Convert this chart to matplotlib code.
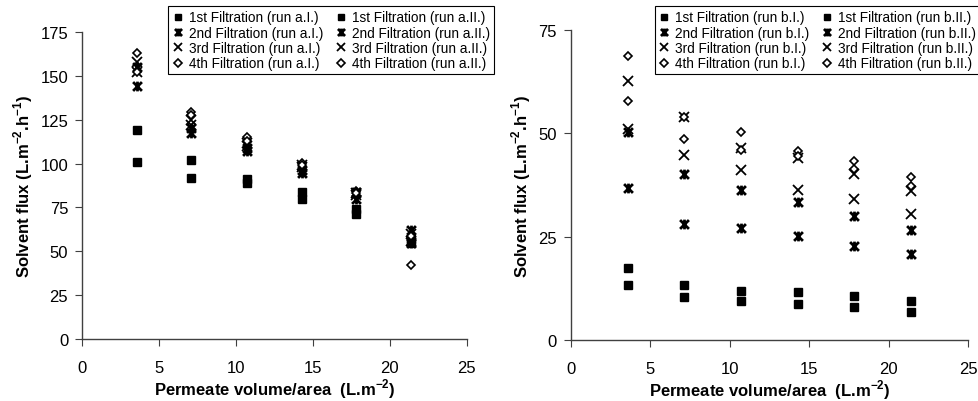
import matplotlib
matplotlib.use("Agg")
import matplotlib.pyplot as plt
from matplotlib.path import Path

plt.rcParams["font.family"] = ["Liberation Sans", "DejaVu Sans"]
plt.rcParams["mathtext.fontset"] = "custom"
plt.rcParams["mathtext.rm"] = "Liberation Sans"
plt.rcParams["mathtext.bf"] = "Liberation Sans:bold"

# Volume perméat / surface (L.m-2)
volume = [3.6, 7.1, 10.7, 14.3, 17.8, 21.4]

# Série a
a_1st_I = [119, 102, 91, 84, 74, 57]
a_2nd_I = [144, 117.5, 107, 94.4, 80, 55]
a_3rd_I = [152, 122, 109.8, 97.8, 82, 56]
a_4th_I = [163, 129.4, 115, 100.5, 84.5, 42.4]
a_1st_II = [101, 92, 89, 80, 71, 55]
a_2nd_II = [155, 120, 108.8, 96.3, 84, 62]
a_3rd_II = [158, 125, 111.7, 99, 83, 60]
a_4th_II = [152, 127.5, 113, 99, 83.5, 59]

# Série b
b_1st_I = [17.4, 13.4, 11.8, 11.6, 10.7, 9.4]
b_2nd_I = [50.2, 40.1, 36.2, 33.4, 29.9, 26.5]
b_3rd_I = [62.6, 54, 46.5, 43.9, 40.1, 36]
b_4th_I = [68.8, 54, 50.2, 45.6, 43.2, 39.5]
b_1st_II = [13.2, 10.3, 9.4, 8.7, 7.9, 6.7]
b_2nd_II = [36.8, 28, 27, 25.2, 22.8, 20.7]
b_3rd_II = [51, 44.8, 41, 36.2, 34, 30.5]
b_4th_II = [57.7, 48.6, 46, 44.5, 41.3, 37.2]

filtrations = ["1st", "2nd", "3rd", "4th"]

# marqueur "étoile" façon Excel : croix + trait vertical
star = Path(
    [(-1, -1), (1, 1), (-1, 1), (1, -1), (0, -1.1), (0, 1.1)],
    [Path.MOVETO, Path.LINETO, Path.MOVETO, Path.LINETO, Path.MOVETO, Path.LINETO],
)

styles = [
    dict(marker="s", ms=6, mfc="black", mec="black"),
    dict(marker=star, ms=7, mfc="none", mec="black", mew=2.0),
    dict(marker="x", ms=7, mfc="none", mec="black", mew=1.3),
    dict(marker="D", ms=4.5, mfc="white", mec="black", mew=1.2),
]

fig = plt.figure(figsize=(9.79, 4.02), dpi=100)
ax1 = fig.add_axes([0.0838, 0.154, 0.393, 0.764])
ax2 = fig.add_axes([0.583, 0.152, 0.406, 0.771])


def draw(ax, series_I, series_II, run, ymax, legend_x):
    for vals, st, f in zip(series_I, styles, filtrations):
        ax.plot(volume, vals, ls="none", label=f"{f} Filtration (run {run}.I.)", **st)
    for vals, st, f in zip(series_II, styles, filtrations):
        ax.plot(volume, vals, ls="none", label=f"{f} Filtration (run {run}.II.)", **st)

    ax.set_xlim(0, 25)
    ax.set_ylim(0, ymax)
    ax.set_xticks(range(0, 26, 5))
    ax.set_yticks(range(0, ymax + 1, 25))
    for s in ["top", "right"]:
        ax.spines[s].set_visible(False)
    for s in ["left", "bottom"]:
        ax.spines[s].set_color("#404040")
        ax.spines[s].set_linewidth(1.0)
    ax.tick_params(direction="out", length=5, width=0.8, color="#404040",
                   labelsize=12, pad=5)
    ax.tick_params(axis="x", pad=10)
    ax.set_xlabel("Permeate volume/area  (L.m$^{\\mathbf{-2}}$)",
                  fontsize=12, fontweight="bold", labelpad=1)
    ax.set_ylabel("Solvent flux (L.m$^{\\mathbf{-2}}$.h$^{\\mathbf{-1}}$)",
                  fontsize=12, fontweight="bold", labelpad=4)

    leg = ax.legend(ncol=2, loc="upper left", bbox_to_anchor=(legend_x, 0.982),
                    bbox_transform=fig.transFigure, borderaxespad=0,
                    fontsize=9.8, frameon=True, fancybox=False, edgecolor="black",
                    framealpha=1, handlelength=0.8, handletextpad=0.4,
                    columnspacing=0.9, labelspacing=0.1, borderpad=0.3,
                    markerscale=0.8)
    leg.get_frame().set_linewidth(0.8)


draw(ax1, [a_1st_I, a_2nd_I, a_3rd_I, a_4th_I],
     [a_1st_II, a_2nd_II, a_3rd_II, a_4th_II], "a", 175, 0.172)
draw(ax2, [b_1st_I, b_2nd_I, b_3rd_I, b_4th_I],
     [b_1st_II, b_2nd_II, b_3rd_II, b_4th_II], "b", 75, 0.669)

fig.savefig("out.png", dpi=100)
